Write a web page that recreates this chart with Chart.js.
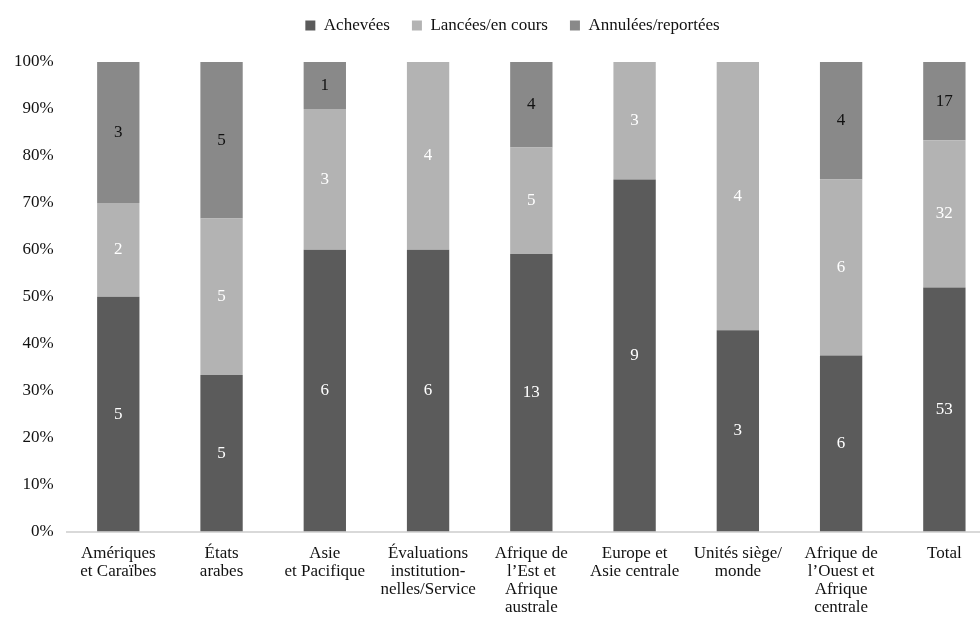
<!DOCTYPE html>
<html>
<head>
<meta charset="utf-8">
<script src="https://cdn.jsdelivr.net/npm/chart.js@4/dist/chart.umd.min.js"></script>
<style>
  html, body { margin: 0; padding: 0; background: #fff; overflow: hidden; }
  #wrap { width: 1024px; height: 624px; }
</style>
</head>
<body>
<div id="wrap"><canvas id="chart" width="1024" height="624"></canvas></div>
<script>
// Categories (multi-line labels)
const categories = [
  ['Amériques', 'et Caraïbes'],
  ['États', 'arabes'],
  ['Asie', 'et Pacifique'],
  ['Évaluations', 'institution-', 'nelles/Service'],
  ['Afrique de', 'l’Est et', 'Afrique', 'australe'],
  ['Europe et', 'Asie centrale'],
  ['Unités siège/', 'monde'],
  ['Afrique de', 'l’Ouest et', 'Afrique', 'centrale'],
  ['Total']
];

// Counts per status
const achevees = [5, 5, 6, 6, 13, 9, 3, 6, 53];
const lancees  = [2, 5, 3, 4, 5, 3, 4, 6, 32];
const annulees = [3, 5, 1, 0, 4, 0, 0, 4, 17];

const seriesNames  = ['Achevées', 'Lancées/en cours', 'Annulées/reportées'];
const seriesColors = ['#5b5b5b', '#b3b3b3', '#898989'];
const labelColors  = ['#ffffff', '#ffffff', '#111111'];

const FONT = '"Liberation Serif", "Times New Roman", serif';

// turn counts into shares of each bar
const totals = achevees.map((v, i) => v + lancees[i] + annulees[i]);
const pct = arr => arr.map((v, i) => v / totals[i] * 100);
const counts = [achevees, lancees, annulees];

// Draw the count inside each segment
const segmentLabels = {
  id: 'segmentLabels',
  afterInit(chart) {
    const lg = chart.legend;
    if (lg) {
      // leave some room between legend and plot
      const fit = lg.fit;
      lg.fit = function () { fit.call(this); this.height += 18; };
      // legend sits a bit right of the canvas centre
      const draw = lg.draw;
      lg.draw = function (area) {
        chart.ctx.save();
        chart.ctx.translate(14, 0);
        draw.call(this, area);
        chart.ctx.restore();
      };
    }
  },
  afterDatasetsDraw(chart) {
    const ctx = chart.ctx;
    ctx.save();
    ctx.font = '17px ' + FONT;
    ctx.textAlign = 'center';
    ctx.textBaseline = 'middle';
    chart.data.datasets.forEach((ds, di) => {
      const meta = chart.getDatasetMeta(di);
      meta.data.forEach((bar, i) => {
        const n = counts[di][i];
        if (!n) return;
        const mid = (bar.y + bar.base) / 2;
        ctx.fillStyle = labelColors[di];
        ctx.fillText(String(n), bar.x, mid);
      });
    });
    ctx.restore();
  }
};

new Chart(document.getElementById('chart'), {
  type: 'bar',
  data: {
    labels: categories,
    datasets: counts.map((c, i) => ({
      label: seriesNames[i],
      data: pct(c),
      backgroundColor: seriesColors[i],
      borderWidth: 0,
      barPercentage: 0.41,
      categoryPercentage: 1.0
    }))
  },
  options: {
    responsive: false,
    animation: false,
    layout: { padding: { top: -5, right: 28, left: 1, bottom: -5 } },
    plugins: {
      legend: {
        position: 'top',
        labels: {
          font: { family: FONT, size: 17 },
          color: '#111',
          boxWidth: 10,
          boxHeight: 10,
          padding: 22
        }
      },
      tooltip: { enabled: false }
    },
    scales: {
      x: {
        stacked: true,
        grid: { display: false, drawTicks: false },
        border: { color: '#d9d9d9', width: 2 },
        ticks: {
          font: { family: FONT, size: 17, lineHeight: 1.05 },
          color: '#111',
          maxRotation: 0,
          autoSkip: false,
          padding: 13
        }
      },
      y: {
        stacked: true,
        min: 0,
        max: 100,
        grid: { display: false, drawTicks: false },
        border: { display: false },
        ticks: {
          stepSize: 10,
          font: { family: FONT, size: 17 },
          color: '#111',
          padding: 13,
          callback: v => v + '%'
        }
      }
    }
  },
  plugins: [segmentLabels]
});
</script>
</body>
</html>
